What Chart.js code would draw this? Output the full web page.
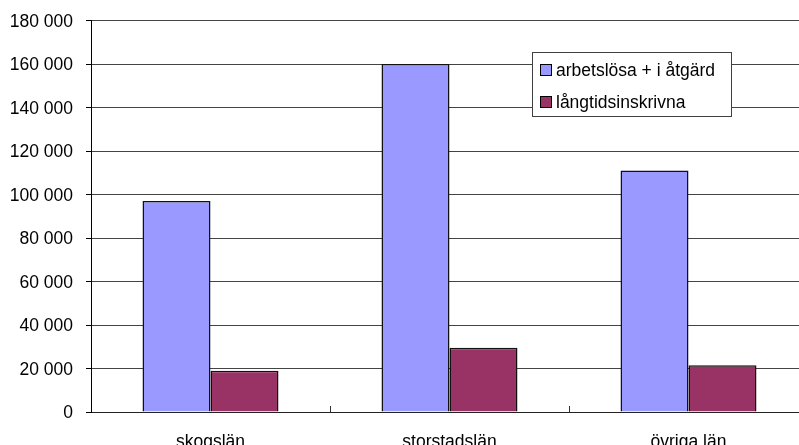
<!DOCTYPE html>
<html>
<head>
<meta charset="utf-8">
<script src="https://cdn.jsdelivr.net/npm/chart.js@4/dist/chart.umd.min.js"></script>
<style>
  html, body { margin: 0; padding: 0; overflow: hidden; background: #fff; }
  #wrap { position: relative; width: 812px; height: 445px; }
</style>
</head>
<body>
<div id="wrap"><canvas id="c"></canvas></div>
<script>
// Categories and series
const categories = ['skogslän', 'storstadslän', 'övriga län'];
const arbetslosa = [97000, 160000, 111000];
const langtidsinskrivna = [19000, 29500, 21500];
const seriesNames = ['arbetslösa + i åtgärd', 'långtidsinskrivna'];
const yTicks = [0, 20000, 40000, 60000, 80000, 100000, 120000, 140000, 160000, 180000];

const FONT = { family: '"Liberation Sans", Arial, sans-serif', size: 17.5 };

function fmt(v) {
  return String(v).replace(/\B(?=(\d{3})+(?!\d))/g, ' ');
}

// Small tick marks between categories, pointing up into the plot
const innerTicks = {
  id: 'innerTicks',
  afterDatasetsDraw(chart) {
    const x = chart.scales.x, ctx = chart.ctx, bottom = chart.chartArea.bottom;
    ctx.save();
    ctx.strokeStyle = '#333';
    ctx.lineWidth = 1;
    for (let i = 1; i < categories.length; i++) {
      const px = Math.round((x.getPixelForValue(i - 1) + x.getPixelForValue(i)) / 2) + 0.5;
      ctx.beginPath();
      ctx.moveTo(px, bottom);
      ctx.lineTo(px, bottom - 6);
      ctx.stroke();
    }
    ctx.restore();
  }
};

// Boxed legend inside the plot area
const boxLegend = {
  id: 'boxLegend',
  afterDraw(chart) {
    const ctx = chart.ctx;
    const bx = 532, by = 52, bw = 199, bh = 64;
    ctx.save();
    ctx.fillStyle = '#fff';
    ctx.fillRect(bx, by, bw, bh);
    ctx.strokeStyle = '#404040';
    ctx.lineWidth = 1;
    ctx.strokeRect(bx + 0.5, by + 0.5, bw, bh);
    ctx.font = FONT.size + 'px ' + FONT.family;
    ctx.textBaseline = 'alphabetic';
    chart.data.datasets.forEach((ds, i) => {
      const sy = by + 12 + i * 32;
      ctx.fillStyle = ds.backgroundColor;
      ctx.fillRect(540, sy, 11, 11);
      ctx.strokeStyle = '#000';
      ctx.strokeRect(540.5, sy + 0.5, 11, 11);
      ctx.fillStyle = '#000';
      ctx.fillText(ds.label, 556, sy + 12);
    });
    ctx.restore();
  }
};

new Chart(document.getElementById('c'), {
  type: 'bar',
  data: {
    labels: categories,
    datasets: [
      { label: seriesNames[0], data: arbetslosa, backgroundColor: '#9999FF', borderColor: '#111', borderWidth: 1.5 },
      { label: seriesNames[1], data: langtidsinskrivna, backgroundColor: '#993366', borderColor: '#111', borderWidth: 1.5 }
    ]
  },
  options: {
    responsive: true,
    maintainAspectRatio: false,
    animation: false,
    devicePixelRatio: 1,
    layout: { padding: { top: 20.5, left: 0, right: 4, bottom: 0 } },
    datasets: { bar: { categoryPercentage: 0.569, barPercentage: 1.0 } },
    plugins: { legend: { display: false }, tooltip: { enabled: false } },
    scales: {
      x: {
        grid: { display: true, drawOnChartArea: false, drawTicks: false },
        border: { display: true, color: '#222', width: 1 },
        ticks: { color: '#000', font: FONT, padding: 20, maxRotation: 0 },
        afterFit(s) { s.height = 33; }
      },
      y: {
        min: 0,
        max: 180000,
        afterBuildTicks(s) { s.ticks = yTicks.map(v => ({ value: v })); },
        grid: { color: '#444', lineWidth: 1, tickLength: 5, tickColor: '#000', drawTicks: true },
        border: { display: true, color: '#000', width: 1 },
        ticks: { color: '#000', font: FONT, padding: 13, labelOffset: 1.5, callback: v => fmt(v) },
        afterFit(s) { s.width = 91; s.paddingTop = 8; s.paddingBottom = 8; }
      }
    }
  },
  plugins: [innerTicks, boxLegend]
});
</script>
</body>
</html>
